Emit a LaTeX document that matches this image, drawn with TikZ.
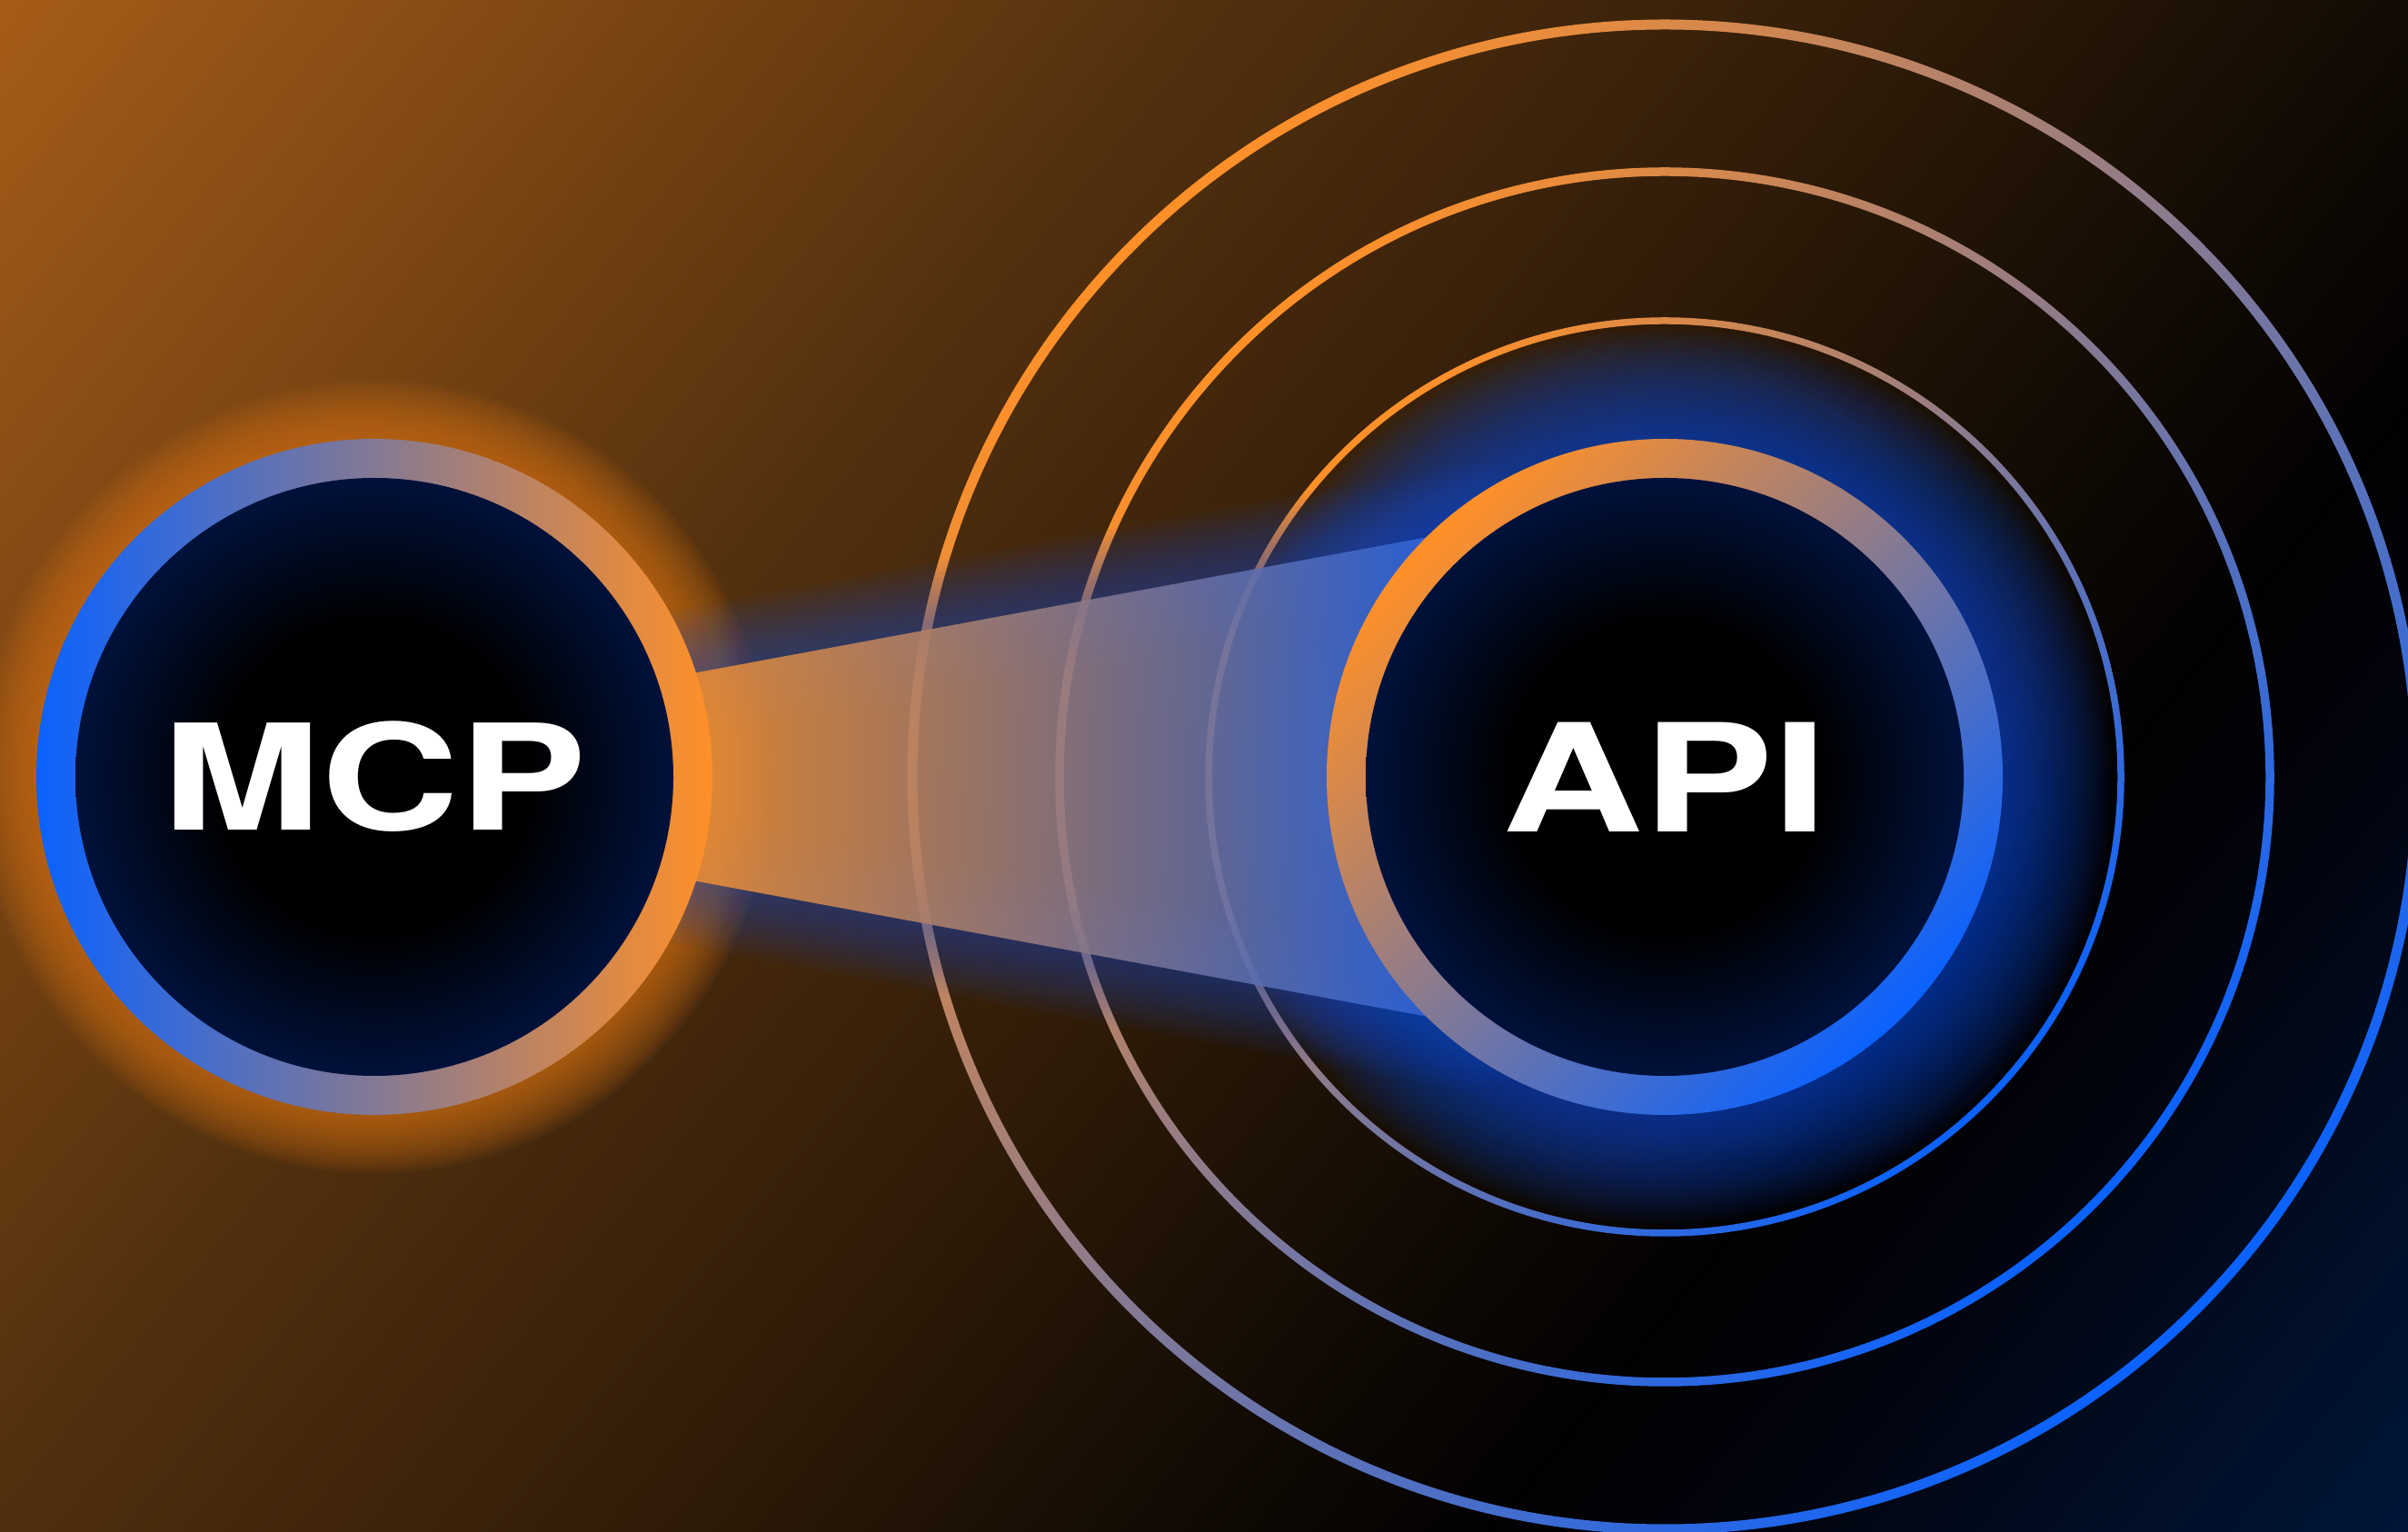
\documentclass[tikz,border=0pt]{standalone}
\usepackage{fontspec}
\usetikzlibrary{calc}
\newfontfamily\badgefont{TeX Gyre Heros}[FakeStretch=1.3]

\definecolor{OrangeMain}{HTML}{FF9028}
\definecolor{BlueMain}{HTML}{0A62FF}
\definecolor{CoreNavy}{HTML}{00113A}
\definecolor{GlowOrange}{HTML}{D2721C}
\definecolor{GlowBlue}{HTML}{0B4CD6}
\definecolor{BeamOrange}{HTML}{F5902E}
\definecolor{BeamBlue}{HTML}{2462E0}
\definecolor{BeamHaze}{HTML}{1E4CC0}
% backdrop stops, top-left to bottom-right
\definecolor{bgA}{HTML}{A65C18}
\definecolor{bgB}{HTML}{52300E}
\definecolor{bgC}{HTML}{341E09}
\definecolor{bgD}{HTML}{140C04}
\definecolor{bgE}{HTML}{020102}
\definecolor{bgF}{HTML}{02040E}
\definecolor{bgG}{HTML}{001638}

\pgfdeclarehorizontalshading{backdrop}{100bp}{color(0bp)=(bgA); color(25bp)=(bgA);
  color(41.5bp)=(bgB); color(50bp)=(bgC); color(57.5bp)=(bgD); color(62.5bp)=(bgE);
  color(66bp)=(bgF); color(75bp)=(bgG); color(100bp)=(bgG)}
\pgfdeclarehorizontalshading{warmcool}{100bp}{color(0bp)=(OrangeMain); color(25bp)=(OrangeMain);
  color(75bp)=(BlueMain); color(100bp)=(BlueMain)}
\pgfdeclarehorizontalshading{coolwarm}{100bp}{color(0bp)=(BlueMain); color(25bp)=(BlueMain);
  color(75bp)=(OrangeMain); color(100bp)=(OrangeMain)}
\pgfdeclarehorizontalshading{beamshade}{100bp}{color(0bp)=(BeamOrange); color(25bp)=(BeamOrange);
  color(75bp)=(BeamBlue); color(100bp)=(BeamBlue)}
\pgfdeclareradialshading{core}{\pgfpointorigin}{color(0bp)=(black); color(13bp)=(black);
  color(25bp)=(CoreNavy); color(50bp)=(CoreNavy)}

\begin{document}
\begin{tikzpicture}[
  badge/.style={text=white, inner sep=0pt},
  halo/.style={fill=#1, opacity=0.07},
  haze/.style={draw=BeamHaze, opacity=0.05, line join=round},
  wave/.style={even odd rule, shading=warmcool, shading angle=-45},
  hub/.style={shading=core}
]

\useasboundingbox (0,0) rectangle (26.5,16.86);
\clip (0,0) rectangle (26.5,16.86);

% --- Backdrop
\shade[shading=backdrop, shading angle=-39.3] (-2.34,-7.16) rectangle (28.84,24.02);

% --- Centres
\coordinate (mcpc) at (4.12,8.31);
\coordinate (apic) at (18.32,8.31);

% --- Glows
\foreach \k in {1,...,16}
  \fill[halo=GlowOrange] (mcpc) circle ({3.72+0.04*\k});
\foreach \k in {1,...,20}
  \fill[halo=GlowBlue, opacity=0.05] (apic) circle ({3.72+0.06*\k});

% --- Waves around API
\foreach \r/\w in {5.02/0.075, 6.66/0.095, 8.28/0.11}
  \shade[wave] (apic) circle ({\r+\w/2}) (apic) circle ({\r-\w/2});

% --- Beam
\coordinate (beamNW) at ($(mcpc)+(3.18,1.08)$);
\coordinate (beamSW) at ($(mcpc)+(3.18,-1.08)$);
\coordinate (beamNE) at ($(apic)+(-2.12,2.73)$);
\coordinate (beamSE) at ($(apic)+(-2.12,-2.73)$);
\foreach \k in {1,...,12}
  \draw[haze, line width={\k*0.12cm}] (beamNW) -- (beamNE) -- (beamSE) -- (beamSW) -- cycle;
\shade[shading=beamshade, opacity=0.88] (beamNW) -- (beamNE) -- (beamSE) -- (beamSW) -- cycle;

% --- MCP disc
\shade[shading=coolwarm] (mcpc) circle (3.72);
\shade[hub] (mcpc) circle (3.29);
\node[badge, font=\badgefont\bfseries\fontsize{46pt}{46pt}\selectfont] (mcp) at (mcpc) {MCP};

% --- API disc
\shade[shading=warmcool, shading angle=-45] (apic) circle (3.72);
\shade[hub] (apic) circle (3.29);
\node[badge, font=\badgefont\bfseries\fontsize{47pt}{47pt}\selectfont] (api) at (apic) {API};

\end{tikzpicture}
\end{document}
